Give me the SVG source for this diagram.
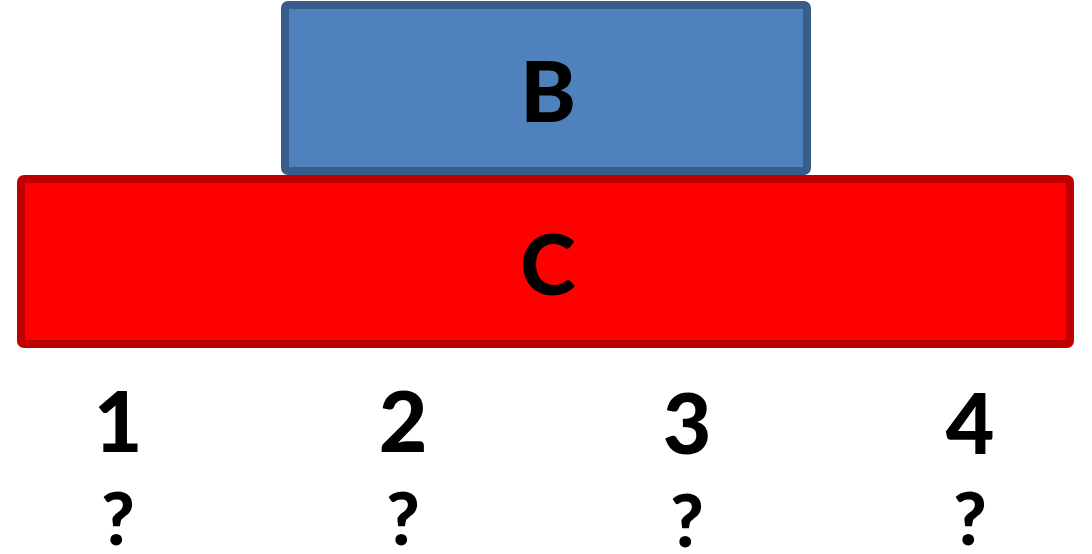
<svg xmlns="http://www.w3.org/2000/svg" width="1092" height="554" viewBox="0 0 1092 554">
<style>
.lbl{font-family:Lato,"Open Sans","Liberation Sans",sans-serif;font-weight:900;fill:#000;text-anchor:middle}
.big{font-size:84px}
.q{font-size:72px}
</style>
<rect width="1092" height="554" fill="#fff"/>
<g id="node-B">
<rect x="285" y="5" width="522" height="166" rx="3" fill="#4F81BD" stroke="#385D8A" stroke-width="8"/>
<text class="lbl big" x="548" y="122">B</text>
</g>
<g id="node-C">
<rect x="21" y="179" width="1049" height="165" rx="3" fill="#FF0000" stroke="#BE0000" stroke-width="8"/>
<text class="lbl big" x="548" y="295">C</text>
</g>
<g id="connectors"></g>
<g id="labels">
<text class="lbl big" x="118" y="452">1</text>
<text class="lbl big" x="403" y="452">2</text>
<text class="lbl big" x="687" y="454">3</text>
<text class="lbl big" x="970" y="454">4</text>
<text class="lbl q" x="118" y="545">?</text>
<text class="lbl q" x="403" y="545">?</text>
<text class="lbl q" x="687" y="547">?</text>
<text class="lbl q" x="970" y="545">?</text>
</g>
</svg>
